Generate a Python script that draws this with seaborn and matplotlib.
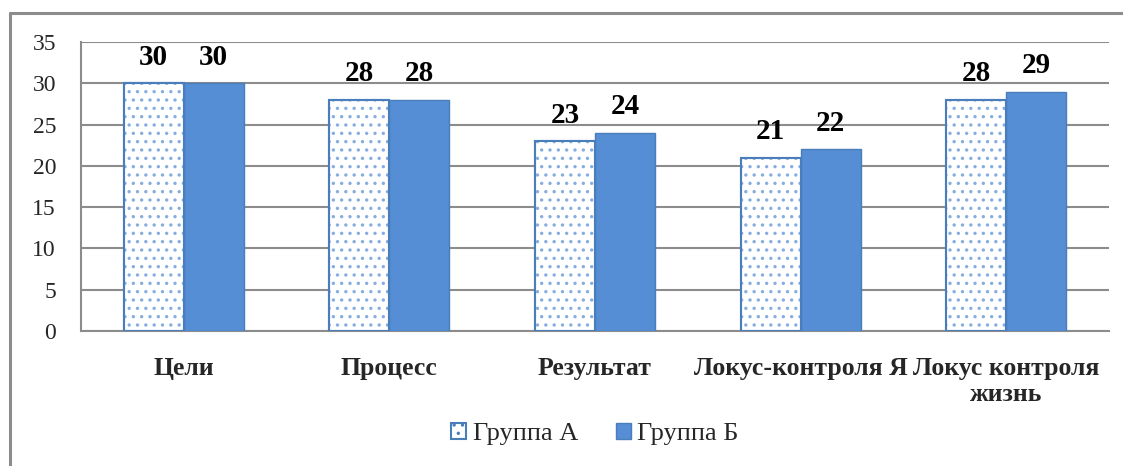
import matplotlib
matplotlib.use("Agg")
import matplotlib.pyplot as plt
from matplotlib.lines import Line2D
from matplotlib.patches import Patch
import seaborn as sns
import pandas as pd

categories = ["Цели", "Процесс", "Результат", "Локус-контроля Я", "Локус контроля\nжизнь"]
group_a = [30, 28, 23, 21, 28]
group_b = [30, 28, 24, 22, 29]
series_names = ["Группа А", "Группа Б"]
y_ticks = [0, 5, 10, 15, 20, 25, 30, 35]

sns.set_style("white")
plt.rcParams['font.family'] = ['Liberation Serif', 'DejaVu Serif']
plt.rcParams['hatch.linewidth'] = 1.2

df = pd.DataFrame({
    "cat": categories * 2,
    "value": group_a + group_b,
    "group": [series_names[0]] * len(categories) + [series_names[1]] * len(categories),
})

blue = "#558ED5"
edge = "#4A7EBB"
dot = "#86ADE0"

fig = plt.figure(figsize=(11.23, 4.66), dpi=100)
ax = fig.add_axes([81/1123, 1-331/466, (1109-81)/1123, (331-42)/466])

sns.barplot(data=df, x="cat", y="value", hue="group", order=categories,
            hue_order=series_names, palette=[blue, blue], width=0.584, gap=0,
            ax=ax, legend=False, saturation=1)

n = len(categories)
for i, p in enumerate(ax.patches[:2*n]):
    if i < n:
        p.set_facecolor("white")
        p.set_edgecolor(dot)
        p.set_hatch("..")
        p.set_linewidth(1.5)
    else:
        p.set_facecolor(blue)
        p.set_edgecolor(edge)
        p.set_linewidth(1.0)
    p.set_zorder(3)

# solid outline for group A bars on top of hatch colour
for p in ax.patches[:n]:
    ax.add_patch(plt.Rectangle((p.get_x(), p.get_y()), p.get_width(), p.get_height(),
                               fill=False, edgecolor=edge, linewidth=1.5, zorder=4))

for i, p in enumerate(ax.patches[:2*n]):
    h = p.get_height()
    ax.annotate(f"{int(round(h))}", (p.get_x() + p.get_width()/2, h),
                xytext=(0, 9), textcoords="offset points", ha="center", va="bottom",
                fontsize=21, fontweight="bold", color="black")

ax.set_ylim(0, 35)
ax.set_xlim(-0.5, n - 0.5)
ax.set_yticks(y_ticks)
ax.set_yticklabels([str(t) for t in y_ticks], fontsize=17)
ax.yaxis.grid(True, color="#8C8C8C", linewidth=1.5, zorder=0)
ax.set_axisbelow(True)
ax.set_xlabel("")
ax.set_ylabel("")

ax.set_xticks(range(n))
ax.set_xticklabels(categories, fontsize=18.5, fontweight="bold", linespacing=1.15, va="top")
ax.set_xticks([i - 0.5 for i in range(n + 1)], minor=True)
ax.tick_params(axis="x", which="major", length=0, pad=19)
ax.tick_params(axis="x", which="minor", length=7, width=1.5, color="#8C8C8C", direction="out")
ax.tick_params(axis="y", length=7, width=1.5, color="#8C8C8C", direction="out", pad=11)

for s in ["top", "right"]:
    ax.spines[s].set_visible(False)
for s in ["left", "bottom"]:
    ax.spines[s].set_color("#8C8C8C")
    ax.spines[s].set_linewidth(1.5)

# outer chart border (top and left visible)
fig.add_artist(Line2D([10/1123, 1.0], [1-13/466, 1-13/466], transform=fig.transFigure,
                      color="#8C8C8C", linewidth=2.2))
fig.add_artist(Line2D([10/1123, 10/1123], [0, 1-13/466], transform=fig.transFigure,
                      color="#8C8C8C", linewidth=2.2))

handles = [Patch(facecolor="white", edgecolor=edge, hatch="..", linewidth=1.5),
           Patch(facecolor=blue, edgecolor=edge, linewidth=1.0)]
fig.legend(handles, series_names, loc="center", bbox_to_anchor=(595/1123, 1-434/466),
           ncol=2, frameon=False, fontsize=19, handlelength=0.55, handleheight=0.55,
           handletextpad=0.25, columnspacing=1.45)

fig.savefig("out.png", dpi=100)
